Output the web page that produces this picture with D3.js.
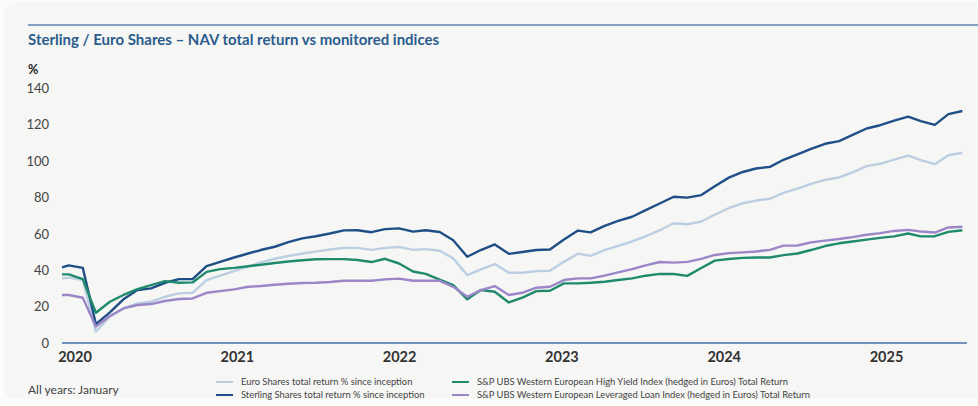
<!DOCTYPE html>
<html>
<head>
<meta charset="utf-8">
<script src="https://cdn.jsdelivr.net/npm/d3@7"></script>
<style>
  html, body { margin: 0; padding: 0; background: #fcfcfb; }
  svg { display: block; font-family: Lato, "Open Sans", sans-serif; }
</style>
</head>
<body>
<svg id="chart" width="978" height="406"></svg>
<script>
// Observation dates: launch point in mid-December 2019, then monthly from January 2020 to June 2025
const launchDate = "2019-12-17";
const firstMonth = "2020-01-01";
const monthCount = 66;

// Total return since inception, %
const sterlingShares = [41.6,
  42.7, 41.3, 10.4, 16.8, 24.0, 29.1, 30.0, 33.1, 35.1, 35.1, 42.3, 44.6,
  47.0, 49.2, 51.1, 52.9, 55.4, 57.5, 58.7, 60.2, 61.9, 62.0, 60.9, 62.6,
  63.0, 61.2, 62.0, 61.0, 56.5, 47.4, 51.1, 54.2, 49.0, 50.0, 51.1, 51.4,
  56.9, 61.8, 60.8, 64.4, 67.1, 69.4, 73.0, 76.7, 80.4, 79.9, 81.3, 86.2,
  90.9, 94.0, 95.9, 96.8, 100.7, 103.7, 106.7, 109.5, 111.0, 114.4, 117.9, 119.7,
  122.2, 124.4, 122.0, 119.9, 125.8, 127.5];
const euroShares = [35.5,
  35.9, 34.6, 6.2, 14.5, 19.0, 21.8, 22.7, 25.4, 27.3, 27.6, 34.6, 37.0,
  39.5, 42.0, 44.3, 46.3, 47.8, 49.2, 50.2, 51.4, 52.3, 52.3, 51.2, 52.3,
  52.8, 51.2, 51.6, 50.7, 46.5, 37.3, 40.5, 43.4, 38.6, 38.6, 39.5, 39.7,
  44.6, 49.1, 47.9, 51.1, 53.4, 55.8, 58.6, 62.0, 65.8, 65.3, 66.8, 70.5,
  74.2, 76.8, 78.3, 79.3, 82.5, 84.8, 87.5, 89.7, 91.0, 93.8, 97.2, 98.5,
  100.8, 103.0, 100.5, 98.3, 103.2, 104.6];
const highYieldIndex = [37.7,
  37.7, 35.1, 16.6, 22.7, 26.4, 29.6, 31.8, 34.0, 33.1, 33.3, 39.1, 40.6,
  41.3, 42.2, 43.0, 44.0, 44.8, 45.5, 46.0, 46.1, 46.1, 45.6, 44.5, 46.3,
  43.7, 39.3, 38.0, 34.8, 31.8, 24.0, 29.1, 28.2, 22.3, 24.9, 28.5, 28.7,
  32.8, 32.8, 33.1, 33.7, 34.6, 35.5, 37.0, 38.0, 37.9, 36.9, 41.2, 45.3,
  46.2, 46.8, 47.0, 47.0, 48.3, 49.2, 51.1, 53.3, 54.8, 55.8, 56.8, 57.8,
  58.6, 60.2, 58.6, 58.7, 61.1, 62.0];
const leveragedLoanIndex = [26.4,
  26.4, 24.9, 9.0, 14.8, 19.0, 20.9, 21.4, 23.1, 24.2, 24.5, 27.6, 28.5,
  29.5, 30.9, 31.3, 32.0, 32.6, 33.0, 33.1, 33.5, 34.2, 34.2, 34.2, 35.0,
  35.4, 34.2, 34.2, 34.2, 30.9, 25.4, 29.1, 31.3, 26.4, 27.6, 30.4, 30.9,
  34.6, 35.5, 35.5, 37.0, 38.8, 40.6, 42.7, 44.5, 44.2, 44.6, 46.2, 48.4,
  49.4, 49.8, 50.3, 51.2, 53.5, 53.6, 55.3, 56.3, 57.2, 58.2, 59.5, 60.4,
  61.6, 62.2, 61.3, 60.7, 63.5, 63.9];

const yTicks = [0, 20, 40, 60, 80, 100, 120, 140];
const yearTicks = ["2020", "2021", "2022", "2023", "2024", "2025"];

const titleText = "Sterling / Euro Shares \u2013 NAV total return vs monitored indices";
const unitText = "%";
const footnoteText = "All years: January";

const seriesList = [
  { name: "Euro Shares total return % since inception", values: euroShares, color: "#bccfe2" },
  { name: "Sterling Shares total return % since inception", values: sterlingShares, color: "#1f4f86" },
  { name: "S&P UBS Western European High Yield Index (hedged in Euros) Total Return", values: highYieldIndex, color: "#1f8b6c" },
  { name: "S&P UBS Western European Leveraged Loan Index (hedged in Euros) Total Return", values: leveragedLoanIndex, color: "#9b86c8" }
];

// Build the date list
const parse = d3.utcParse("%Y-%m-%d");
const dates = [parse(launchDate)].concat(d3.utcMonth.range(parse(firstMonth), d3.utcMonth.offset(parse(firstMonth), monthCount)));

const svg = d3.select("#chart");
const W = 978, H = 406;

// Card
svg.append("rect").attr("x", 4).attr("y", 2).attr("width", W + 20).attr("height", 397)
  .attr("rx", 12).attr("fill", "#f6f6f4");

// Top rule and title
svg.append("line").attr("x1", 28).attr("x2", W).attr("y1", 25).attr("y2", 25)
  .attr("stroke", "#5d86b3").attr("stroke-width", 1.5);
svg.append("text").attr("x", 28).attr("y", 45).text(titleText)
  .attr("font-size", 15).attr("font-weight", 700).attr("fill", "#2b5c8e");
svg.append("text").attr("x", 28).attr("y", 74).text(unitText)
  .attr("font-size", 12.5).attr("font-weight", 700).attr("fill", "#222");

// Scales
const plotLeft = 62, plotRight = 967, lastPointX = 962.4;
const x = d3.scaleUtc().domain([dates[0], dates[dates.length - 1]]).range([plotLeft, lastPointX]);
const y = d3.scaleLinear().domain([0, 140]).range([343, 88.3]);

// Y axis labels
const yAxis = svg.append("g").attr("transform", "translate(52,0)")
  .call(d3.axisLeft(y).tickValues(yTicks).tickSize(0).tickPadding(3));
yAxis.select(".domain").remove();
yAxis.selectAll("text").attr("font-size", 13).attr("fill", "#444").attr("font-family", "Lato, sans-serif");

// X axis: year labels sit on a January grid spaced evenly across the axis
const yearDates = yearTicks.map(t => parse(t + "-01-01"));
const labelX = d3.scaleLinear().domain([0, yearTicks.length - 1]).range([75, 886.5]);
const xAxis = svg.append("g").attr("transform", `translate(0,${y(0)})`)
  .call(d3.axisBottom(x).tickValues(yearDates).tickFormat(d3.utcFormat("%Y")).tickSize(0).tickPadding(9));
xAxis.select(".domain").remove();
xAxis.selectAll(".tick").attr("transform", (d, i) => `translate(${labelX(i)},0)`);
xAxis.selectAll("text").attr("font-size", 14.5).attr("font-weight", 700).attr("fill", "#333")
  .attr("font-family", "Lato, sans-serif");
svg.append("line").attr("x1", plotLeft).attr("x2", plotRight).attr("y1", y(0)).attr("y2", y(0))
  .attr("stroke", "#7094bb").attr("stroke-width", 2);

// Lines
const line = d3.line().x((d, i) => x(dates[i])).y(d => y(d));
svg.append("g").selectAll("path").data(seriesList).join("path")
  .attr("d", s => line(s.values))
  .attr("fill", "none")
  .attr("stroke", s => s.color)
  .attr("stroke-width", 2.4)
  .attr("stroke-linejoin", "round");

// Footnote
svg.append("text").attr("x", 28).attr("y", 394).text(footnoteText)
  .attr("font-size", 12).attr("fill", "#444");

// Legend
const legendPos = [[216, 382], [216, 395], [452, 382], [452, 395]];
const legend = svg.append("g").selectAll("g").data(seriesList).join("g")
  .attr("transform", (d, i) => `translate(${legendPos[i][0]},${legendPos[i][1]})`);
legend.append("line").attr("x1", 0).attr("x2", 17).attr("stroke", d => d.color).attr("stroke-width", 2);
legend.append("text").attr("x", 25).attr("dy", "0.35em").text(d => d.name)
  .attr("font-size", 9.4).attr("fill", "#444");
</script>
</body>
</html>
